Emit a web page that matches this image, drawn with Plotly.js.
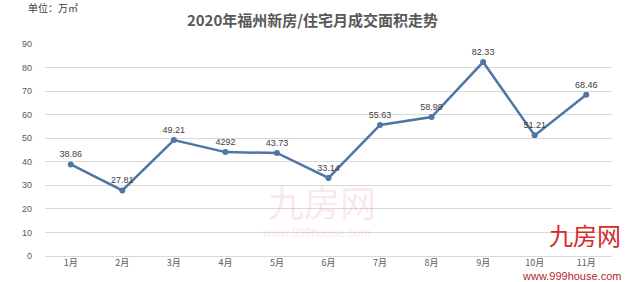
<!DOCTYPE html>
<html><head><meta charset="utf-8">
<script src="https://cdn.plot.ly/plotly-3.0.1.min.js"></script>
<style>html,body{margin:0;padding:0;background:#fff}#c{width:625px;height:282px}</style>
</head><body><div id="c"></div>
<script>
const months = ["1月","2月","3月","4月","5月","6月","7月","8月","9月","10月","11月"];
const area = [38.86, 27.81, 49.21, 44.1, 43.73, 33.14, 55.63, 58.99, 82.33, 51.21, 68.46];
const labels = ["38.86","27.81","49.21","4292","43.73","33.14","55.63","58.99","82.33","51.21","68.46"];
const yTicks = [0,10,20,30,40,50,60,70,80,90];

const trace = {
  x: months, y: area, type: "scatter", mode: "lines+markers+text",
  text: labels, textposition: "top center",
  textfont: {family: "Liberation Sans, Arial, sans-serif", size: 9, color: "#404040"},
  line: {color: "#4e77a6", width: 2.5},
  marker: {color: "#4e77a6", size: 6},
  cliponaxis: false, hoverinfo: "none"
};

const layout = {
  width: 625, height: 282,
  margin: {l: 45, r: 13, t: 44, b: 26},
  paper_bgcolor: "#ffffff", plot_bgcolor: "#ffffff",
  showlegend: false,
  title: {text: "2020年福州新房/住宅月成交面积走势", x: 0.5, xanchor: "center", y: 0.925, yanchor: "middle",
    font: {family: "Noto Sans CJK SC, sans-serif", size: 15, color: "#595959", weight: "bold"}},
  xaxis: {type: "category", range: [-0.5, 10.5], showgrid: false, zeroline: false, showline: false,
    ticks: "", tickfont: {family: "Noto Sans CJK SC, sans-serif", size: 9, color: "#595959"}},
  yaxis: {range: [0, 90], tickvals: yTicks, showgrid: true, gridcolor: "#d9d9d9", gridwidth: 1,
    zeroline: true, zerolinecolor: "#d9d9d9", showline: false, ticks: "", ticklabelstandoff: 12,
    tickfont: {family: "Liberation Sans, Arial, sans-serif", size: 9, color: "#595959"}},
  annotations: [
    {text: "单位：万㎡", xref: "paper", yref: "paper", x: -0.033, y: 1.17, xanchor: "left", yanchor: "middle",
      showarrow: false, font: {family: "Noto Sans CJK SC, sans-serif", size: 10, color: "#404040"}},
    {text: "九房网", xref: "paper", yref: "paper", x: 0.39, y: 0.26, xanchor: "left", yanchor: "middle",
      showarrow: false, font: {family: "Noto Sans CJK SC, sans-serif", size: 36, color: "rgba(230,120,120,0.18)"}},
    {text: "www.999house.com", xref: "paper", yref: "paper", x: 0.38, y: 0.11, xanchor: "left", yanchor: "middle",
      showarrow: false, font: {family: "Liberation Sans, sans-serif", size: 12, color: "rgba(230,120,120,0.18)"}},
    {text: "九房网", xref: "paper", yref: "paper", x: 1.02, y: 0.10, xanchor: "right", yanchor: "middle",
      showarrow: false, font: {family: "Noto Sans CJK SC, sans-serif", size: 24, color: "#d42a2a"}},
    {text: "www.999house.com", xref: "paper", yref: "paper", x: 1.02, y: -0.095, xanchor: "right", yanchor: "middle",
      showarrow: false, font: {family: "Liberation Sans, sans-serif", size: 11, color: "#b82a2a"}}
  ]
};
Plotly.newPlot("c", [trace], layout, {displayModeBar: false, staticPlot: true});
</script></body></html>
